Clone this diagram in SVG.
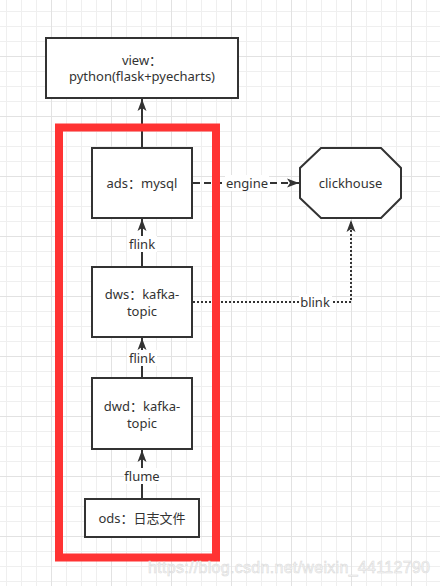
<svg xmlns="http://www.w3.org/2000/svg" width="440" height="586" viewBox="0 0 440 586">
<style>
.box{fill:#fff;stroke:#333;stroke-width:2}
.t{font-family:"Noto Sans","Noto Sans CJK SC",sans-serif;font-size:13px;fill:#333;text-anchor:middle}
.edge{fill:none;stroke:#333;stroke-width:2}
.lbl{fill:#fff}
</style>
<defs>
<pattern id="minor" x="6" y="11" width="15" height="15" patternUnits="userSpaceOnUse">
<path d="M0.5,0V15M0,0.5H15" stroke="#efefef" stroke-width="1" fill="none"/>
</pattern>
<pattern id="major" x="51" y="56" width="60" height="60" patternUnits="userSpaceOnUse">
<path d="M0.5,0V60M0,0.5H60" stroke="#e2e2e2" stroke-width="1" fill="none"/>
</pattern>
<marker id="arr" viewBox="0 0 12 10" refX="12" refY="5" markerWidth="12" markerHeight="10" markerUnits="userSpaceOnUse" orient="auto">
<path d="M0,0.5L12,5L0,9.5L3,5Z" fill="#333" stroke="none"/>
</marker>
</defs>
<rect width="440" height="586" fill="#fff"/>
<rect width="440" height="586" fill="url(#minor)"/>
<rect width="440" height="586" fill="url(#major)"/>

<g id="connectors">
<path class="edge" d="M142,148V99" marker-end="url(#arr)"/>
<path class="edge" d="M142,267V219" marker-end="url(#arr)"/>
<rect class="lbl" x="127" y="236" width="30" height="16"/>
<text class="t" x="142" y="248.5">flink</text>
<path class="edge" d="M142,378V338" marker-end="url(#arr)"/>
<rect class="lbl" x="127" y="350" width="30" height="16"/>
<text class="t" x="142" y="362.5">flink</text>
<path class="edge" d="M142,499V450" marker-end="url(#arr)"/>
<rect class="lbl" x="124" y="468" width="36" height="16"/>
<text class="t" x="142" y="480.5">flume</text>
<path class="edge" d="M193,183H299" stroke-dasharray="7 4" marker-end="url(#arr)"/>
<rect class="lbl" x="225" y="175" width="44" height="16"/>
<text class="t" x="247" y="187.5">engine</text>
<path class="edge" d="M193,302H351V220" stroke-dasharray="2 2" marker-end="url(#arr)"/>
<rect class="lbl" x="299" y="294" width="33" height="16"/>
<text class="t" x="315" y="306.5">blink</text>
</g>

<g id="view">
<rect class="box" x="46" y="38" width="192" height="60"/>
<text class="t" x="142" y="64.5">view：</text>
<text class="t" x="142" y="81">python(flask+pyecharts)</text>
</g>
<g id="ads">
<rect class="box" x="92" y="148" width="100" height="70"/>
<text class="t" x="142" y="187.5">ads：mysql</text>
</g>
<g id="dws">
<rect class="box" x="92" y="267" width="100" height="70"/>
<text class="t" x="142" y="298.5">dws：kafka-</text>
<text class="t" x="142" y="315.5">topic</text>
</g>
<g id="dwd">
<rect class="box" x="92" y="378" width="100" height="71"/>
<text class="t" x="142" y="410.5">dwd：kafka-</text>
<text class="t" x="142" y="427.5">topic</text>
</g>
<g id="ods">
<rect class="box" x="85" y="499" width="114" height="38"/>
<text class="t" x="142" y="522.5">ods：日志文件</text>
</g>
<g id="clickhouse">
<polygon class="box" points="321,148 381,148 401,168 401,198 381,218 321,218 300,198 300,168"/>
<text class="t" x="350.5" y="187.5">clickhouse</text>
</g>
<g id="highlight">
<rect x="59" y="127.5" width="157" height="430" fill="none" stroke="#f33" stroke-width="8"/>
</g>
<text x="430" y="573" text-anchor="end" font-family="Liberation Sans, Arial, sans-serif" font-size="16" fill="#f6f6f6" stroke="#d8d8d8" stroke-width="0.5" textLength="282">https://blog.csdn.net/weixin_44112790</text>
</svg>
